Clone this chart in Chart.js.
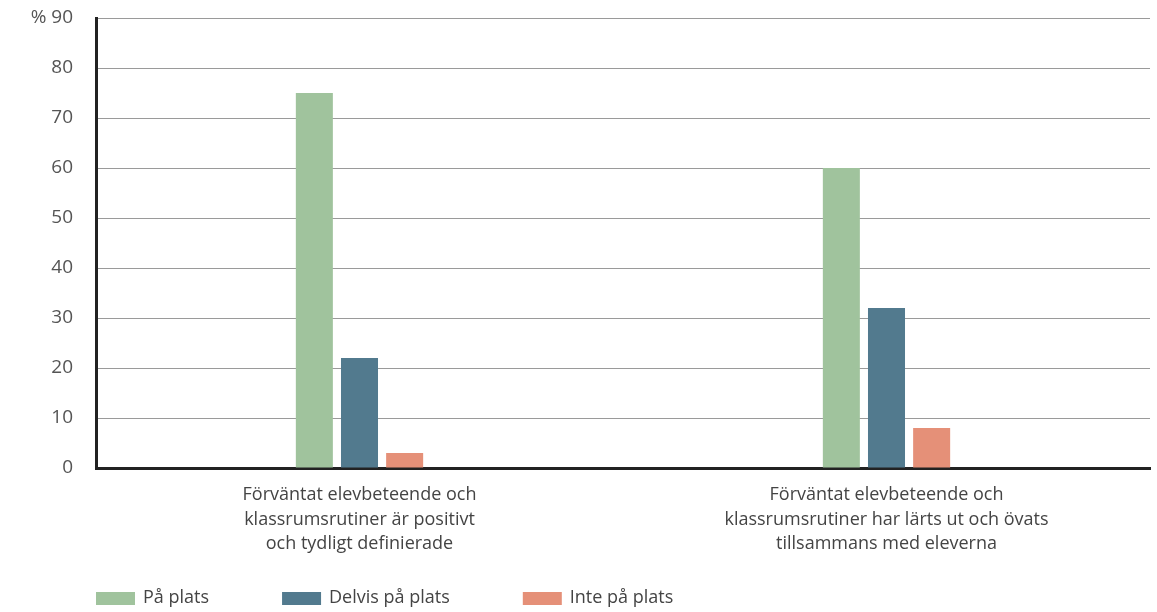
<!DOCTYPE html>
<html>
<head>
<meta charset="utf-8">
<script src="https://cdn.jsdelivr.net/npm/chart.js@4.4.1/dist/chart.umd.min.js"></script>
<style>
    html, body { margin: 0; padding: 0; background: #fff; }
    #wrap { width: 1157px; height: 612px; position: relative; }
</style>
</head>
<body>
<div id="wrap"><canvas id="chart"></canvas></div>
<script>
// categories (multi-line labels as drawn under the axis)
const categories = [
    ['Förväntat elevbeteende och', 'klassrumsrutiner är positivt', 'och tydligt definierade'],
    ['Förväntat elevbeteende och', 'klassrumsrutiner har lärts ut och övats', 'tillsammans med eleverna']
];
const seriesNames = ['På plats', 'Delvis på plats', 'Inte på plats'];
const paPlats = [75, 60];
const delvisPaPlats = [22, 32];
const intePaPlats = [3, 8];
const yTicks = [0, 10, 20, 30, 40, 50, 60, 70, 80, 90];

const colors = ['#a0c39d', '#527a8e', '#e59078'];
const FONT = '"Open Sans", sans-serif';

// simple legend drawn under the chart, left-aligned with the plot area
const bottomLegend = {
    id: 'bottomLegend',
    afterDraw(chart) {
        const ctx = chart.ctx;
        const y = 598;
        let x = chart.chartArea.left;
        ctx.save();
        ctx.font = '18px ' + FONT;
        ctx.textBaseline = 'middle';
        ctx.textAlign = 'left';
        chart.data.datasets.forEach(function (ds) {
            ctx.fillStyle = ds.backgroundColor;
            ctx.fillRect(x, y - 6, 39, 13);
            x += 39 + 8;
            ctx.fillStyle = '#444';
            ctx.fillText(ds.label, x, y);
            x += ctx.measureText(ds.label).width + 73;
        });
        ctx.restore();
    }
};

new Chart(document.getElementById('chart'), {
    type: 'bar',
    data: {
        labels: categories,
        datasets: [
            { label: seriesNames[0], data: paPlats, backgroundColor: colors[0] },
            { label: seriesNames[1], data: delvisPaPlats, backgroundColor: colors[1] },
            { label: seriesNames[2], data: intePaPlats, backgroundColor: colors[2] }
        ]
    },
    options: {
        responsive: true,
        maintainAspectRatio: false,
        animation: false,
        datasets: { bar: { categoryPercentage: 0.257, barPercentage: 0.82 } },
        layout: { padding: { top: 18, right: 7, bottom: 54, left: 0 } },
        plugins: { legend: { display: false }, tooltip: { enabled: false } },
        scales: {
            x: {
                grid: { display: false, drawTicks: false },
                border: { display: true, color: '#222', width: 3 },
                ticks: { color: '#444', font: { family: FONT, size: 18, lineHeight: 1.35 }, padding: 15, maxRotation: 0, autoSkip: false },
                afterFit: function (scale) { scale.height = 90; }
            },
            y: {
                min: 0,
                max: 90,
                afterBuildTicks: function (scale) { scale.ticks = yTicks.map(function (v) { return { value: v }; }); },
                grid: { color: '#9a9a9a', lineWidth: 1, drawTicks: false },
                border: { display: true, color: '#222', width: 3 },
                ticks: {
                    color: '#555',
                    font: { family: FONT, size: 19 },
                    padding: 23,
                    callback: function (v) { return v === 90 ? '% 90' : v; }
                },
                afterFit: function (scale) {
                    scale.width = 96;
                    scale.paddingTop = 0;
                    scale.paddingBottom = 0;
                }
            }
        }
    },
    plugins: [bottomLegend]
});
</script>
</body>
</html>
